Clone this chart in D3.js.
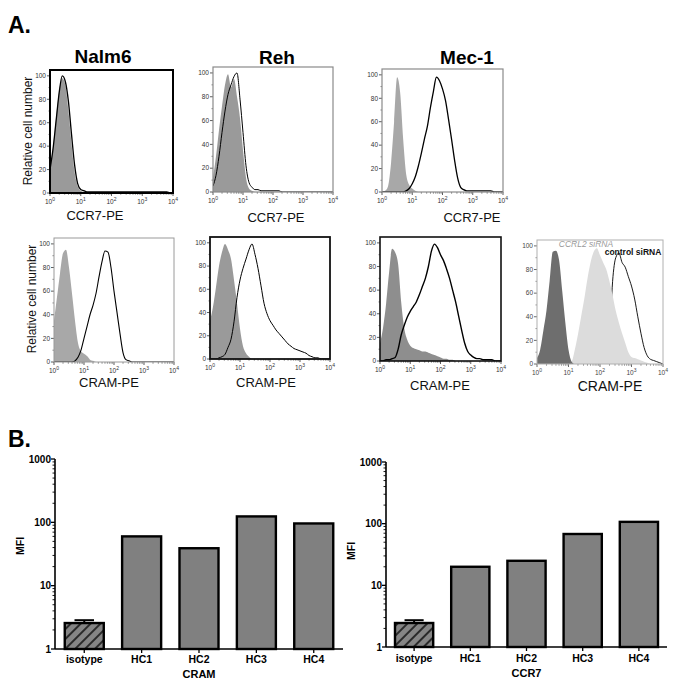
<!DOCTYPE html>
<html><head><meta charset="utf-8">
<script src="https://cdn.jsdelivr.net/npm/d3@7"></script>
<style>body{margin:0;background:#fff}svg{display:block;font-family:"Liberation Sans",Arial,sans-serif}</style>
</head><body><svg id="c" width="685" height="692"></svg>
<script>
// ---------- DATA ----------
const logBins = [0,0.1,0.2,0.3,0.4,0.5,0.6,0.7,0.8,0.9,1,1.1,1.2,1.3,1.4,1.5,1.6,1.7,1.8,1.9,2,2.1,2.2,2.3,2.4,2.5,2.6,2.7,2.8,2.9,3,3.1,3.2,3.3,3.4,3.5,3.6,3.7,3.8,3.9,4];
const histYTicks = [0,20,40,60,80,100];
const histXTicks = [0,1,2,3,4];

const nalm6CCR7Iso = [22,40,65,88,98,92,70,42,18,6, 2,1,0,0,0,0,0,0,0,0, 0,0,0,0,0,0,0,0,0,0, 0,0,0,0,0,0,0,0,0,0, 0];
const nalm6CCR7Stain = [20,38,62,86,100,95,78,50,24,8, 3,2,1,1,1,1,1,1,1,1, 1,1,1,1,1,1,1,1,1,1, 1,1,1,1,1,1,1,1,1,0, 0];
const rehCCR7Iso = [12,30,52,72,90,99,88,95,80,62, 35,12,3,1,0,0,0,0,0,0, 0,0,0,0,0,0,0,0,0,0, 0,0,0,0,0,0,0,0,0,0, 0];
const rehCCR7Stain = [5,14,30,50,68,82,90,97,100,78, 50,22,8,4,2,2,1,1,1,1, 1,1,1,0,0,0,0,0,0,0, 0,0,0,0,0,0,0,0,0,0, 0];
const mec1CCR7Iso = [0,1,5,25,60,98,85,45,15,6, 3,1,0,0,0,0,0,0,0,0, 0,0,0,0,0,0,0,0,0,0, 0,0,0,0,0,0,0,0,0,0, 0];
const mec1CCR7Stain = [0,0,0,0,0,0,0,0,1,3, 7,13,22,33,45,56,72,86,98,95, 88,78,62,45,27,12,4,2,1,1, 1,1,1,1,1,1,1,0,0,0, 0];

const nalm6CRAMIso = [35,55,75,92,95,80,58,35,16,9, 7,5,2,1,0,0,0,0,0,0, 0,0,0,0,0,0,0,0,0,0, 0,0,0,0,0,0,0,0,0,0, 0];
const nalm6CRAMStain = [0,0,0,0,0,0,0,1,4,10, 20,30,40,48,58,72,85,94,93,80, 60,42,24,8,2,1,0,0,0,0, 0,0,0,0,0,0,0,0,0,0, 0];
const rehCRAMIso = [33,45,62,80,92,99,94,86,68,48, 26,11,5,2,0,0,0,0,0,0, 0,0,0,0,0,0,0,0,0,0, 0,0,0,0,0,0,0,0,0,0, 0];
const rehCRAMStain = [0,0,0,1,2,4,10,17,32,53, 68,78,86,94,99,90,78,63,48,39, 33,29,25,22,19,16,13,11,9,8, 7,6,5,3,2,1,1,0,0,0, 0];
const mec1CRAMIso = [15,28,48,75,95,92,82,50,28,18, 13,11,10,9,8,8,7,6,5,4, 3,2,2,1,1,0,0,0,0,0, 0,0,0,0,0,0,0,0,0,0, 0];
const mec1CRAMStain = [0,0,1,1,2,3,10,22,30,37, 42,46,50,56,63,70,80,93,99,96, 90,85,78,70,60,50,38,26,15,8, 5,3,2,2,1,1,1,1,0,0, 0];

const siIso = [5,12,28,45,70,95,96,88,62,35, 12,2,0,0,0,0,0,0,0,0, 0,0,0,0,0,0,0,0,0,0, 0,0,0,0,0,0,0,0,0,0, 0];
const siCCRL2 = [1,1,1,1,1,1,1,1,1,1, 1,2,12,25,40,55,72,86,95,98, 92,86,80,70,58,45,35,26,18,10, 6,5,4,3,2,1,0,0,0,0, 0];
const siControl = [0,0,0,0,0,0,0,0,0,0, 0,0,0,0,0,0,0,0,0,0, 0,0,2,20,70,90,94,86,82,74, 66,55,40,26,14,7,4,3,2,1, 0];

const cellLines = ["Nalm6","Reh","Mec-1"];
const barCats = ["isotype","HC1","HC2","HC3","HC4"];
const cramMFI = [2.57, 60, 39, 124, 96];
const cramIsoErr = 2.85;
const ccr7MFI = [2.45, 20, 25, 68, 107];
const ccr7IsoErr = 2.72;
const mfiTicks = [1,10,100,1000];

// ---------- DRAW ----------
const svg = d3.select('#c');
const defs = svg.append('defs');
const pat = defs.append('pattern').attr('id','hatch').attr('patternUnits','userSpaceOnUse')
  .attr('width',7).attr('height',7).attr('patternTransform','rotate(45)');
pat.append('rect').attr('width',7).attr('height',7).attr('fill','#858585');
pat.append('line').attr('x1',1).attr('x2',1).attr('y1',0).attr('y2',7).attr('stroke','#2a2a2a').attr('stroke-width',2);

function drawHist(cfg, idx){
  const g = svg.append('g');
  const x = d3.scaleLog().domain([1,1e4]).range([cfg.x0,cfg.x1]);
  const y = d3.scaleLinear().domain([0,105]).range([cfg.y1,cfg.y0]);
  const cid = 'clip'+idx;
  defs.append('clipPath').attr('id',cid).append('rect')
    .attr('x',cfg.x0).attr('y',cfg.y0).attr('width',cfg.x1-cfg.x0).attr('height',cfg.y1-cfg.y0);
  const inner = g.append('g').attr('clip-path',`url(#${cid})`);
  const pts = arr => arr.map((v,k)=>[Math.pow(10,logBins[k]), v]);
  const area = d3.area().x(d=>x(d[0])).y0(y(0)).y1(d=>y(d[1])).curve(d3.curveMonotoneX);
  const line = d3.line().x(d=>x(d[0])).y(d=>y(d[1])).curve(d3.curveMonotoneX);
  cfg.layers.forEach(L=>{
    if(L.type==='fill') inner.append('path').attr('d',area(pts(L.data))).attr('fill',L.color);
    else inner.append('path').attr('d',line(pts(L.data))).attr('fill','none')
      .attr('stroke','#000').attr('stroke-width',L.w||1.3).attr('stroke-linejoin','round');
  });
  // ticks
  const tc = cfg.tickColor || '#333';
  // y ticks
  histYTicks.forEach(t=>{
    g.append('line').attr('x1',cfg.x0-3).attr('x2',cfg.x0).attr('y1',y(t)).attr('y2',y(t)).attr('stroke',tc).attr('stroke-width',0.8);
    g.append('text').attr('x',cfg.x0-4).attr('y',y(t)+2.3).attr('text-anchor','end')
      .attr('font-size',6.5).attr('fill',tc).text(t);
  });
  [10,30,50,70,90].forEach(t=>{
    g.append('line').attr('x1',cfg.x0-1.5).attr('x2',cfg.x0).attr('y1',y(t)).attr('y2',y(t)).attr('stroke',tc).attr('stroke-width',0.6);
  });
  // x ticks
  histXTicks.forEach(e=>{
    const xv = x(Math.pow(10,e));
    g.append('line').attr('x1',xv).attr('x2',xv).attr('y1',cfg.y1).attr('y2',cfg.y1+3).attr('stroke',tc).attr('stroke-width',0.8);
    const t = g.append('text').attr('x',xv).attr('y',cfg.y1+10.5).attr('text-anchor','middle')
      .attr('font-size',6.5).attr('fill',tc);
    t.append('tspan').text('10');
    t.append('tspan').attr('dy',-3).attr('font-size',5).text(e);
    if(e<4){
      for(let m=2;m<=9;m++){
        const xm = x(m*Math.pow(10,e));
        g.append('line').attr('x1',xm).attr('x2',xm).attr('y1',cfg.y1).attr('y2',cfg.y1+1.7).attr('stroke',tc).attr('stroke-width',0.6);
      }
    }
  });
  // box
  g.append('rect').attr('x',cfg.x0).attr('y',cfg.y0).attr('width',cfg.x1-cfg.x0).attr('height',cfg.y1-cfg.y0)
    .attr('fill','none').attr('stroke',cfg.border).attr('stroke-width',cfg.bw);
  // x label
  g.append('text').attr('x',cfg.lx).attr('y',cfg.ly).attr('text-anchor','middle')
    .attr('font-size',cfg.lfs||13).attr('fill','#111').text(cfg.xlabel);
}

const G = '#9a9a9a';
const panels = [
  {x0:50,x1:173,y0:70,y1:193,border:'#000',bw:2,xlabel:'CCR7-PE',lx:95,ly:220,
    layers:[{type:'fill',data:nalm6CCR7Iso,color:G},{type:'line',data:nalm6CCR7Stain}]},
  {x0:213,x1:333,y0:67,y1:192,border:'#8a8a8a',bw:1.2,xlabel:'CCR7-PE',lx:276,ly:222,
    layers:[{type:'fill',data:rehCCR7Iso,color:G},{type:'line',data:rehCCR7Stain,w:1}]},
  {x0:382,x1:503,y0:69,y1:192,border:'#8a8a8a',bw:1.2,xlabel:'CCR7-PE',lx:472,ly:222,
    layers:[{type:'fill',data:mec1CCR7Iso,color:'#a8a8a8'},{type:'line',data:mec1CCR7Stain}]},
  {x0:54,x1:174,y0:238,y1:362,border:'#9a9a9a',bw:1,xlabel:'CRAM-PE',lx:109,ly:387,
    layers:[{type:'fill',data:nalm6CRAMIso,color:'#a8a8a8'},{type:'line',data:nalm6CRAMStain,w:1.1}]},
  {x0:210,x1:330,y0:237,y1:359,border:'#111',bw:1.8,xlabel:'CRAM-PE',lx:266,ly:387,
    layers:[{type:'fill',data:rehCRAMIso,color:G},{type:'line',data:rehCRAMStain,w:1}]},
  {x0:380,x1:501,y0:237,y1:361,border:'#111',bw:1.6,xlabel:'CRAM-PE',lx:440,ly:390,
    layers:[{type:'fill',data:mec1CRAMIso,color:'#8e8e8e'},{type:'line',data:mec1CRAMStain,w:1.4}]},
  {x0:537,x1:663,y0:240,y1:364,border:'#b0b0b0',bw:1,xlabel:'CRAM-PE',lx:610,ly:391,lfs:14,tickColor:'#444',
    layers:[{type:'line',data:siControl,w:0.9},{type:'fill',data:siCCRL2,color:'#dcdcdc'},{type:'fill',data:siIso,color:'#6e6e6e'}]}
];
panels.forEach((p,i)=>drawHist(p,i));

// siRNA annotations
svg.append('text').attr('x',586).attr('y',247).attr('text-anchor','middle').attr('font-size',8.5)
  .attr('font-style','italic').attr('fill','#9a9a9a').text('CCRL2 siRNA');
svg.append('text').attr('x',633).attr('y',255).attr('text-anchor','middle').attr('font-size',8.5)
  .attr('font-weight','bold').attr('fill','#111').text('control siRNA');

// titles
svg.append('text').attr('x',8).attr('y',33).attr('font-size',23).attr('font-weight','bold').text('A.');
svg.append('text').attr('x',8).attr('y',447).attr('font-size',23).attr('font-weight','bold').text('B.');
[[103,63],[277,64],[467,64]].forEach((pos,i)=>{
  svg.append('text').attr('x',pos[0]).attr('y',pos[1]).attr('text-anchor','middle')
    .attr('font-size',19).attr('font-weight','bold').text(cellLines[i]);
});
[[28,131],[32,299]].forEach(pos=>{
  svg.append('text').attr('transform',`translate(${pos[0]+4},${pos[1]}) rotate(-90)`).attr('text-anchor','middle')
    .attr('font-size',12).attr('fill','#111').text('Relative cell number');
});

// ---------- BAR CHARTS ----------
function drawBars(cfg){
  const g = svg.append('g');
  const x = d3.scaleBand().domain(barCats).range([cfg.ax,cfg.axEnd]).paddingInner(0.32).paddingOuter(cfg.po);
  const y = d3.scaleLog().domain([1,1000]).range([cfg.yb,cfg.yt]);
  // bars
  g.selectAll('rect.bar').data(cfg.values).join('rect').attr('class','bar')
    .attr('x',(d,i)=>x(barCats[i])).attr('width',x.bandwidth())
    .attr('y',d=>y(d)).attr('height',d=>cfg.yb-y(d))
    .attr('fill',(d,i)=>i===0?'url(#hatch)':'#808080').attr('stroke','#000').attr('stroke-width',2.4);
  // error bar on isotype
  const cx = x(barCats[0])+x.bandwidth()/2;
  g.append('line').attr('x1',cx).attr('x2',cx).attr('y1',y(cfg.values[0])).attr('y2',y(cfg.err)).attr('stroke','#000').attr('stroke-width',2);
  g.append('line').attr('x1',cx-x.bandwidth()/4).attr('x2',cx+x.bandwidth()/4).attr('y1',y(cfg.err)).attr('y2',y(cfg.err)).attr('stroke','#000').attr('stroke-width',2);
  // y axis
  g.append('line').attr('x1',cfg.ax).attr('x2',cfg.ax).attr('y1',cfg.yb).attr('y2',cfg.yt).attr('stroke','#000').attr('stroke-width',1.6);
  mfiTicks.forEach((t,k)=>{
    g.append('line').attr('x1',cfg.ax-4).attr('x2',cfg.ax).attr('y1',y(t)).attr('y2',y(t)).attr('stroke','#000').attr('stroke-width',1.3);
    g.append('text').attr('x',cfg.ax-4).attr('y',y(t)+3.5).attr('text-anchor','end').attr('font-size',10)
      .attr('font-weight','bold').text(t);
    if(k<mfiTicks.length-1){
      for(let m=2;m<=9;m++){
        g.append('line').attr('x1',cfg.ax-2.5).attr('x2',cfg.ax).attr('y1',y(m*t)).attr('y2',y(m*t)).attr('stroke','#000').attr('stroke-width',0.9);
      }
    }
  });
  // x axis
  g.append('line').attr('x1',cfg.ax).attr('x2',cfg.axEnd).attr('y1',cfg.yb).attr('y2',cfg.yb).attr('stroke','#000').attr('stroke-width',1.6);
  barCats.forEach(c=>{
    const xc = x(c)+x.bandwidth()/2;
    g.append('line').attr('x1',xc).attr('x2',xc).attr('y1',cfg.yb).attr('y2',cfg.yb+4).attr('stroke','#000').attr('stroke-width',1.3);
    g.append('text').attr('x',xc).attr('y',cfg.catY).attr('text-anchor','middle').attr('font-size',10.5)
      .attr('font-weight','bold').text(c);
  });
  g.append('text').attr('x',(cfg.ax+cfg.axEnd)/2).attr('y',cfg.titleY).attr('text-anchor','middle')
    .attr('font-size',11).attr('font-weight','bold').text(cfg.title);
  g.append('text').attr('transform',`translate(${cfg.mfiX+4},${cfg.mfiY}) rotate(-90)`).attr('text-anchor','middle')
    .attr('font-size',10.5).attr('font-weight','bold').text('MFI');
}
drawBars({ax:55,axEnd:343,yb:649,yt:459,po:0.17,values:cramMFI,err:cramIsoErr,title:'CRAM',titleY:678,catY:663,mfiX:20,mfiY:546});
drawBars({ax:386,axEnd:667,yb:647,yt:462,po:0.16,values:ccr7MFI,err:ccr7IsoErr,title:'CCR7',titleY:677,catY:662,mfiX:351,mfiY:551});
</script></body></html>
